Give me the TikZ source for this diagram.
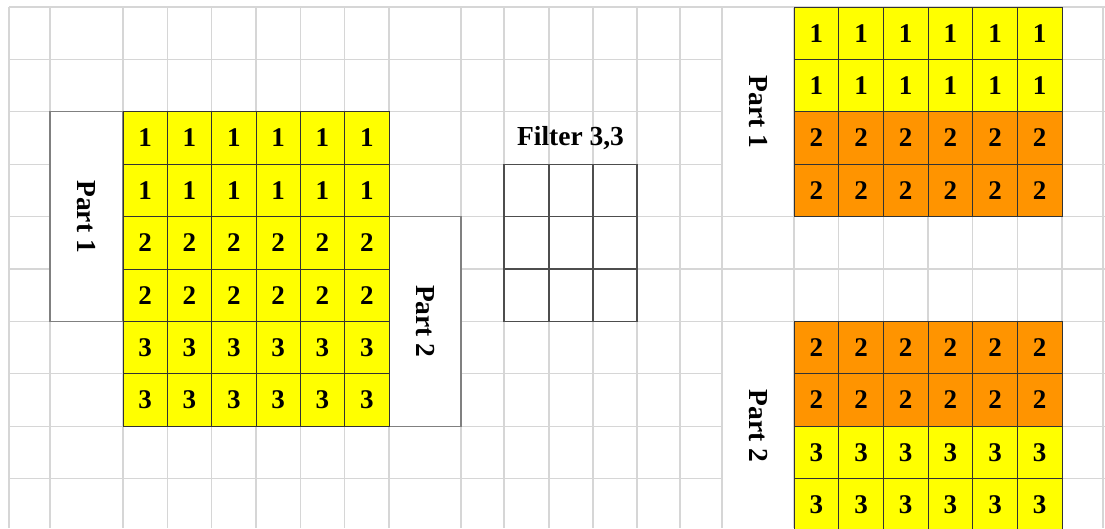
\documentclass[tikz,border=0pt]{standalone}
\usepackage{fontspec}
\setmainfont{Liberation Serif}
\usepackage{tikz}
\usetikzlibrary{calc,positioning}
\usepackage{xcolor}
\definecolor{gridline}{HTML}{D6D6D6}
\definecolor{cellyellow}{HTML}{FFFF00}
\definecolor{cellorange}{HTML}{FF9400}
\definecolor{boxline}{HTML}{808080}
\definecolor{cellline}{HTML}{333333}
\definecolor{filterline}{HTML}{4D4D4D}
\tikzset{
    sheet/.style={
        color=gridline,
        line width=1.2pt
    },
    cell/.style={
        draw=cellline,
        line width=0.9pt
    },
    partbox/.style={
        draw=boxline,
        fill=white,
        line width=1.2pt
    },
    filterbox/.style={
        color=filterline,
        line width=1.1pt
    },
    digit/.style={
        font=\fontsize{27}{32}\selectfont\bfseries,
        inner sep=0pt
    },
    partlabel/.style={
        font=\fontsize{27.5}{32}\selectfont\bfseries,
        rotate=-90,
        inner sep=0pt
    },
    filterlabel/.style={
        font=\fontsize{27.5}{32}\selectfont\bfseries,
        inner sep=0pt
    }
}

\begin{document}
\begin{tikzpicture}[x=1pt,y=-1pt]

    \def\rh{52.4}
    \def\cwl{44.33}
    \def\cwr{44.67}

    % Cadre
    \useasboundingbox (0,0) rectangle (1105,528);
    \fill[white] (0,0) rectangle (1105,528);

    % Grille
    \foreach \gx in {9,50,123,167.3,211.7,256,300.3,344.7,389,461,504,549,593,637,680,722,794,838.7,883.3,928,972.7,1017.3,1062,1103}
        \draw[sheet] (\gx,7) -- (\gx,528);
    \foreach \k in {0,...,9}
        \draw[sheet] (9,{7+\k*\rh}) -- (1105,{7+\k*\rh});

    % Cellules fusionnees
    \fill[white] (722.8,7.8) rectangle (793.2,215.9);
    \fill[white] (722.8,322.1) rectangle (793.2,528);

    % Parties (gauche)
    \draw[partbox]
        (50,111.8) rectangle (123,321.4);
    \draw[partbox]
        (389,216.6) rectangle (461,426.2);

    \node[partlabel] (partA) at (86.5,216.6) {Part 1};
    \node[partlabel] (partB) at (425,321.4) {Part 2};

    % Image d'entree
    \foreach \v [count=\r from 0] in {1,1,2,2,3,3} {
        \foreach \c in {0,...,5} {
            \draw[cell,fill=cellyellow]
                ({123+\c*\cwl},{111.8+\r*\rh})
                rectangle +(\cwl,\rh);
            \node[digit] (in-\r-\c)
                at ({123+(\c+0.5)*\cwl},{111.8+(\r+0.5)*\rh}) {\v};
        }
    }

    % Filtre
    \node[filterlabel] (filtername) at (570.5,138) {Filter 3,3};
    \draw[filterbox]
        (504,164.2) rectangle (637,321.4);
    \draw[filterbox]
        (549,164.2) -- (549,321.4)
        (593,164.2) -- (593,321.4)
        (504,216.6) -- (637,216.6)
        (504,269) -- (637,269);

    % Partie 1 (droite)
    \foreach \v/\col [count=\r from 0] in {1/cellyellow,1/cellyellow,2/cellorange,2/cellorange} {
        \foreach \c in {0,...,5} {
            \draw[cell,fill=\col]
                ({794+\c*\cwr},{7+\r*\rh})
                rectangle +(\cwr,\rh);
            \node[digit] (top-\r-\c)
                at ({794+(\c+0.5)*\cwr},{7+(\r+0.5)*\rh}) {\v};
        }
    }
    \node[partlabel] (partC) at (758,111.8) {Part 1};

    % Partie 2 (droite)
    \foreach \v/\col [count=\r from 0] in {2/cellorange,2/cellorange,3/cellyellow,3/cellyellow} {
        \foreach \c in {0,...,5} {
            \draw[cell,fill=\col]
                ({794+\c*\cwr},{321.4+\r*\rh})
                rectangle +(\cwr,\rh);
            \node[digit] (bot-\r-\c)
                at ({794+(\c+0.5)*\cwr},{321.4+(\r+0.5)*\rh}) {\v};
        }
    }
    \node[partlabel] (partD) at (758,426.2) {Part 2};

\end{tikzpicture}
\end{document}
